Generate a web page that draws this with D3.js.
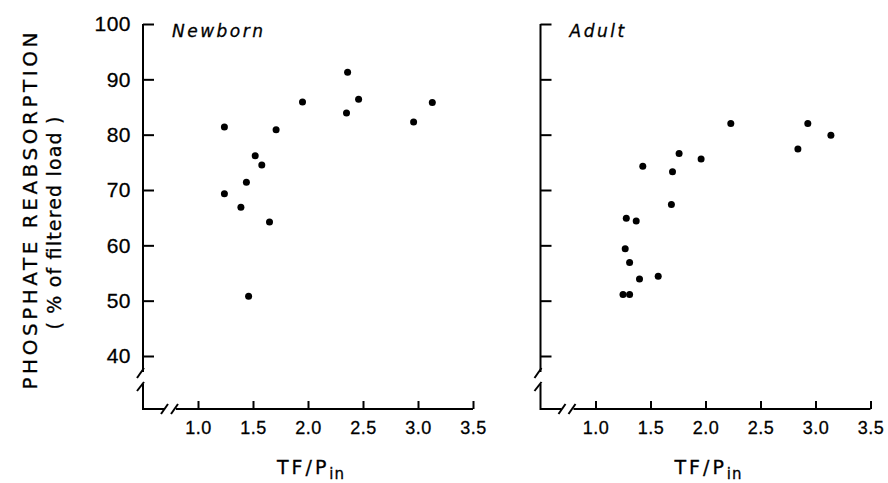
<!DOCTYPE html>
<html>
<head>
<meta charset="utf-8">
<script src="https://cdn.jsdelivr.net/npm/d3@7"></script>
<style>
  body { margin: 0; background: #fff; }
  svg { display: block; font-family: "DejaVu Sans", sans-serif; }
  .tick line { stroke: #000; stroke-width: 2; }
  .tick text { fill: #000; }
</style>
</head>
<body>
<div id="chart"></div>
<script>
// values
var newbornTF    = [2.36, 1.95, 2.46, 2.35, 3.13, 2.96, 1.24, 1.71, 1.52, 1.58, 1.44, 1.24, 1.39, 1.65, 1.46];
var newbornReabs = [91.3, 85.9, 86.4, 83.9, 85.8, 82.3, 81.4, 80.9, 76.2, 74.5, 71.4, 69.3, 66.9, 64.2, 50.8];

var adultTF    = [2.23, 2.93, 3.14, 2.84, 1.76, 1.96, 1.43, 1.70, 1.69, 1.28, 1.37, 1.27, 1.31, 1.57, 1.40, 1.25, 1.31];
var adultReabs = [82.0, 82.0, 79.9, 77.4, 76.6, 75.6, 74.3, 73.3, 67.4, 64.9, 64.4, 59.4, 56.9, 54.4, 53.9, 51.1, 51.1];

var xTicks = [1.0, 1.5, 2.0, 2.5, 3.0, 3.5];
var yTicks = [40, 50, 60, 70, 80, 90, 100];

var panelNames = ['Newborn', 'Adult'];

var width = 888, height = 483;

var svg = d3.select('#chart').append('svg')
    .attr('width', width)
    .attr('height', height);

var y = d3.scaleLinear().domain([40, 100]).range([356, 24]);
var axisBottomY = 409;

function drawPanel(x0, name, tf, reabs, showYLabels) {
  var x = d3.scaleLinear().domain([0.5, 3.5]).range([x0, x0 + 330]);
  var g = svg.append('g');

  // y axis with ticks pointing inward
  var yAxis = d3.axisLeft(y)
    .tickValues(yTicks)
    .tickSizeInner(-11)
    .tickSizeOuter(0)
    .tickPadding(12)
    .tickFormat(showYLabels ? d3.format('d') : function() { return ''; });

  var ya = g.append('g')
    .attr('transform', 'translate(' + x0 + ',0)')
    .call(yAxis);
  ya.select('.domain').remove();
  ya.selectAll('text')
    .style('font-size', '21px')
    .style('letter-spacing', '0.5px')
    .style('stroke', '#000')
    .style('stroke-width', 0.3);

  // x axis, ticks pointing up
  var xAxis = d3.axisBottom(x)
    .tickValues(xTicks)
    .tickSizeInner(-8)
    .tickSizeOuter(0)
    .tickPadding(12)
    .tickFormat(d3.format('.1f'));

  var xa = g.append('g')
    .attr('transform', 'translate(0,' + axisBottomY + ')')
    .call(xAxis);
  xa.select('.domain').remove();
  xa.selectAll('text')
    .style('font-size', '18px')
    .style('letter-spacing', '0.5px')
    .style('stroke', '#000')
    .style('stroke-width', 0.3);

  // axis lines with the little breaks
  var line = d3.line();
  var axisPaths = [
    [[x0, y(100)], [x0, 372]],
    [[x0 + 1, 368], [x0 - 6, 378]],
    [[x0 - 6, 391], [x0 + 1, 382]],
    [[x0, 384], [x0, axisBottomY], [x0 + 21, axisBottomY]],
    [[x0 + 18, 414], [x0 + 25, 404]],
    [[x0 + 28, 414], [x0 + 35, 404]],
    [[x0 + 33, axisBottomY], [x(3.5), axisBottomY]]
  ];
  g.selectAll('path.ax')
    .data(axisPaths)
    .enter().append('path')
    .attr('class', 'ax')
    .attr('d', line)
    .attr('fill', 'none')
    .attr('stroke', '#000')
    .attr('stroke-width', 2);

  // panel name
  g.append('text')
    .attr('x', x0 + 29)
    .attr('y', 37)
    .style('font-size', '17px')
    .style('font-style', 'italic')
    .style('letter-spacing', '2.5px')
    .style('stroke', '#000')
    .style('stroke-width', 0.3)
    .text(name);

  // x axis title TF/Pin
  var t = g.append('text')
    .attr('x', x(2.0) + 3)
    .attr('y', 474)
    .attr('text-anchor', 'middle')
    .style('font-size', '19px')
    .style('letter-spacing', '3px')
    .style('stroke', '#000')
    .style('stroke-width', 0.3);
  t.append('tspan').text('TF/P');
  t.append('tspan')
    .attr('dy', 5)
    .style('font-size', '15px')
    .style('letter-spacing', '1px')
    .text('in');

  // points
  var pts = d3.range(tf.length).map(function(i) { return [tf[i], reabs[i]]; });
  g.selectAll('circle')
    .data(pts)
    .enter().append('circle')
    .attr('cx', function(d) { return x(d[0]); })
    .attr('cy', function(d) { return y(d[1]); })
    .attr('r', 3.5)
    .attr('fill', '#000');
}

drawPanel(143, panelNames[0], newbornTF, newbornReabs, true);
drawPanel(540.5, panelNames[1], adultTF, adultReabs, false);

// y axis title
svg.append('text')
  .attr('transform', 'translate(37,211) rotate(-90)')
  .attr('text-anchor', 'middle')
  .attr('textLength', 357)
  .attr('lengthAdjust', 'spacing')
  .style('font-size', '20px')
  .style('stroke', '#000')
  .style('stroke-width', 0.3)
  .text('PHOSPHATE  REABSORPTION');

svg.append('text')
  .attr('transform', 'translate(61,223) rotate(-90)')
  .attr('text-anchor', 'middle')
  .attr('textLength', 213)
  .attr('lengthAdjust', 'spacing')
  .style('font-size', '19px')
  .style('stroke', '#000')
  .style('stroke-width', 0.3)
  .text('( % of filtered load )');
</script>
</body>
</html>
